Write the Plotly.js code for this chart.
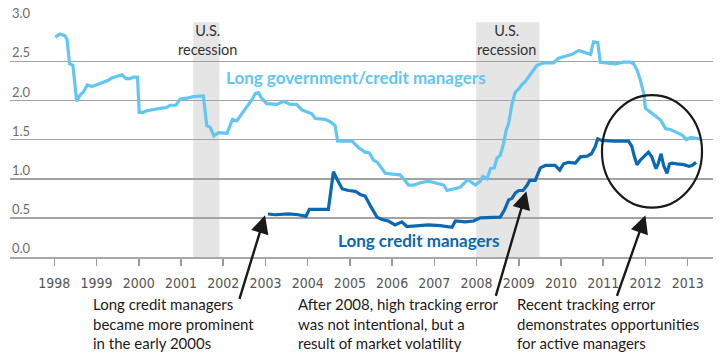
<!DOCTYPE html>
<html>
<head>
<meta charset="utf-8">
<script src="https://cdn.plot.ly/plotly-3.0.1.min.js"></script>
<style>html,body{margin:0;padding:0;background:#fff;}#chart{width:721px;height:356px;}</style>
</head>
<body>
<div id="chart"></div>
<script>
// Long government/credit managers (decimal year, tracking error)
const govX = [1998.02,1998.13,1998.25,1998.30,1998.36,1998.44,1998.53,1998.61,1998.69,1998.78,1998.89,1999.04,1999.16,1999.28,1999.36,1999.48,1999.60,1999.70,1999.79,1999.87,1999.97,2000.01,2000.11,2000.19,2000.35,2000.50,2000.66,2000.74,2000.88,2000.98,2001.14,2001.29,2001.53,2001.61,2001.69,2001.78,2001.89,2002.09,2002.16,2002.22,2002.32,2002.44,2002.56,2002.68,2002.76,2002.83,2002.91,2003.03,2003.27,2003.43,2003.59,2003.74,2003.86,2003.98,2004.10,2004.18,2004.41,2004.53,2004.65,2004.71,2004.85,2005.05,2005.20,2005.36,2005.46,2005.56,2005.65,2005.76,2005.84,2006.00,2006.19,2006.27,2006.39,2006.51,2006.67,2006.86,2006.98,2007.14,2007.22,2007.30,2007.46,2007.61,2007.79,2007.89,2007.97,2008.09,2008.15,2008.25,2008.33,2008.42,2008.48,2008.56,2008.64,2008.70,2008.76,2008.84,2008.92,2009.00,2009.07,2009.15,2009.23,2009.31,2009.43,2009.59,2009.82,2009.94,2010.14,2010.26,2010.42,2010.54,2010.70,2010.77,2010.87,2010.93,2011.09,2011.29,2011.48,2011.64,2011.72,2011.80,2011.88,2011.96,2012.00,2012.12,2012.24,2012.36,2012.48,2012.59,2012.71,2012.87,2012.97,2013.07,2013.27,2013.30];
const govY = [2.81,2.85,2.83,2.78,2.47,2.45,1.99,2.07,2.11,2.20,2.18,2.21,2.23,2.26,2.29,2.31,2.33,2.28,2.28,2.30,2.30,1.85,1.85,1.87,1.89,1.90,1.91,1.94,1.94,2.02,2.03,2.05,2.06,1.68,1.66,1.55,1.59,1.58,1.68,1.76,1.74,1.83,1.92,2.01,2.09,2.10,2.03,1.96,1.95,1.99,1.95,1.95,1.88,1.85,1.83,1.77,1.76,1.73,1.68,1.48,1.48,1.48,1.40,1.34,1.33,1.24,1.21,1.13,1.07,1.06,1.05,1.00,0.92,0.92,0.95,0.97,0.95,0.93,0.92,0.85,0.87,0.89,0.99,0.95,0.92,0.97,1.03,1.00,1.13,1.14,1.26,1.30,1.45,1.62,1.71,1.96,2.11,2.15,2.20,2.24,2.30,2.37,2.45,2.48,2.48,2.54,2.57,2.59,2.64,2.62,2.59,2.75,2.74,2.49,2.48,2.47,2.49,2.49,2.47,2.39,2.26,2.09,1.90,1.85,1.81,1.75,1.64,1.63,1.60,1.56,1.50,1.53,1.51,1.51];

// Long credit managers
const credX = [2003.06,2003.23,2003.55,2003.78,2003.96,2004.04,2004.49,2004.61,2004.73,2004.82,2004.97,2005.13,2005.24,2005.36,2005.48,2005.64,2005.76,2005.91,2006.07,2006.23,2006.35,2006.63,2006.86,2007.14,2007.42,2007.50,2007.73,2007.93,2008.09,2008.56,2008.66,2008.76,2008.84,2008.92,2009.00,2009.10,2009.20,2009.26,2009.39,2009.51,2009.63,2009.86,2009.97,2010.06,2010.18,2010.34,2010.46,2010.62,2010.72,2010.81,2010.87,2010.97,2011.25,2011.60,2011.68,2011.73,2011.80,2011.88,2012.00,2012.07,2012.15,2012.25,2012.30,2012.37,2012.43,2012.51,2012.57,2012.63,2012.75,2012.91,2013.03,2013.10,2013.20];
const credY = [0.55,0.54,0.55,0.54,0.52,0.61,0.61,1.09,0.96,0.87,0.85,0.84,0.80,0.78,0.66,0.51,0.48,0.46,0.41,0.45,0.39,0.40,0.41,0.40,0.38,0.46,0.45,0.46,0.50,0.51,0.60,0.73,0.75,0.82,0.85,0.85,0.92,0.98,0.98,1.14,1.17,1.17,1.11,1.19,1.21,1.20,1.28,1.29,1.32,1.41,1.51,1.49,1.48,1.48,1.41,1.30,1.18,1.24,1.31,1.34,1.28,1.13,1.19,1.32,1.17,1.07,1.19,1.20,1.19,1.18,1.16,1.17,1.21];

// Recession periods
const recessions = [[2001.29, 2001.91], [2007.99, 2009.49]];

const yearTicks = [1998,1999,2000,2001,2002,2003,2004,2005,2006,2007,2008,2009,2010,2011,2012,2013];
const yTicks = [0, 0.5, 1.0, 1.5, 2.0, 2.5, 3.0];
const yTickText = ['0.0','0.5','1.0','1.5','2.0','2.5','3.0'];

const notes = [
  ['Long credit managers', 'became more prominent', 'in the early 2000s'],
  ['After 2008, high tracking error', 'was not intentional, but a', 'result of market volatility'],
  ['Recent tracking error', 'demonstrates opportunities', 'for active managers']
];

const LIGHT = '#62c6f1';
const DARK = '#0b68b2';
const TXT = '#1f1b1c';
const FONT = 'Lato, "Open Sans", sans-serif';

const traces = [
  {x: govX, y: govY, type: 'scatter', mode: 'lines', line: {color: LIGHT, width: 3.2}, hoverinfo: 'skip'},
  {x: credX, y: credY, type: 'scatter', mode: 'lines', line: {color: DARK, width: 3.2}, hoverinfo: 'skip'}
];

const shapes = recessions.map(r => ({
  type: 'rect', xref: 'x', yref: 'y', x0: r[0], x1: r[1], y0: 0, y1: 3,
  fillcolor: '#e5e5e5', line: {width: 0}, layer: 'below'
}));
shapes.push({type: 'circle', xref: 'x', yref: 'y', x0: 2010.97, x1: 2013.34, y0: 0.63, y1: 2.07,
  line: {color: '#1a1a1a', width: 2.2}, fillcolor: 'rgba(0,0,0,0)'});

const annotations = [];
// recession labels
recessions.forEach(r => {
  const cx = (r[0] + r[1]) / 2 + (r[1] - r[0] > 1 ? -0.02 : 0.02);
  annotations.push({x: cx, y: 0.923, xref: 'x', yref: 'paper', yanchor: 'middle', text: 'U.S.<br>recession',
    showarrow: false, align: 'center',
    font: {family: FONT, size: 14.5, color: '#333'}});
});
annotations.push(
  {x: 2005.15, y: 2.30, xref: 'x', yref: 'y', text: '<b>Long government/credit managers</b>', showarrow: false,
   font: {family: FONT, size: 17, color: LIGHT}},
  {x: 2006.63, y: 0.205, xref: 'x', yref: 'y', text: '<b>Long credit managers</b>', showarrow: false,
   font: {family: FONT, size: 17, color: DARK}},
  // arrows
  {x: 2002.99, y: 0.533, xref: 'x', yref: 'y', text: '', showarrow: true, ax: -26, ay: 85,
   arrowhead: 2, arrowsize: 1.5, arrowwidth: 2.4, arrowcolor: '#1a1a1a'},
  {x: 2009.18, y: 0.84, xref: 'x', yref: 'y', text: '', showarrow: true, ax: -31, ay: 106,
   arrowhead: 2, arrowsize: 1.5, arrowwidth: 2.4, arrowcolor: '#1a1a1a'},
  {x: 2012.0, y: 0.533, xref: 'x', yref: 'y', text: '', showarrow: true, ax: -29, ay: 82,
   arrowhead: 2, arrowsize: 1.5, arrowwidth: 2.4, arrowcolor: '#1a1a1a'}
);
// bottom notes
const noteX = [1998.92, 2003.78, 2008.96];
notes.forEach((lines, i) => {
  annotations.push({x: noteX[i], y: -0.152, xref: 'x', yref: 'paper', xanchor: 'left', yanchor: 'top',
    align: 'left', showarrow: false, xshift: -2, text: lines.join('<br>'),
    font: {family: FONT, size: 15, color: TXT}});
});
// y tick labels drawn above each gridline, inside the plot
yTicks.forEach((v, i) => {
  annotations.push({x: 0, xref: 'paper', y: v, yref: 'y', xanchor: 'left', yanchor: 'bottom',
    text: yTickText[i], showarrow: false, yshift: -1,
    font: {family: FONT, size: 13, color: '#6d6d6d'}});
});

const layout = {
  width: 721, height: 356,
  margin: {l: 10, r: 8, t: 22, b: 99},
  paper_bgcolor: '#fff', plot_bgcolor: '#fff',
  showlegend: false,
  xaxis: {
    range: [1996.95, 2013.6], tickvals: yearTicks, ticktext: yearTicks.map(String),
    ticks: 'outside', ticklen: 7, tickwidth: 1.5, tickcolor: '#9a9a9a', ticklabelstandoff: 5,
    showgrid: false, zeroline: false, showline: true, linecolor: '#a8a8a8', linewidth: 2,
    tickfont: {family: '"Liberation Sans Narrow", "DejaVu Sans Condensed", sans-serif', size: 14, color: '#555'},
    fixedrange: true
  },
  yaxis: {
    range: [0, 3.004], tickvals: yTicks, showticklabels: false, ticks: '',
    showgrid: true, gridcolor: '#a3a3a3', gridwidth: 1.6, zeroline: false, showline: false,
    fixedrange: true
  },
  shapes: shapes,
  annotations: annotations
};

Plotly.newPlot('chart', traces, layout, {staticPlot: true, displayModeBar: false});
</script>
</body>
</html>
